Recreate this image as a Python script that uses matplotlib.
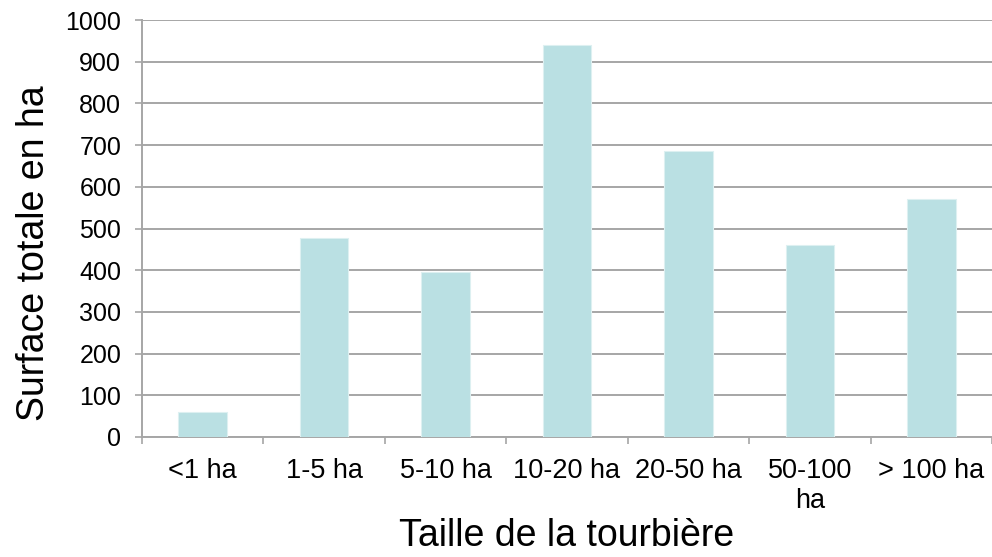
import matplotlib
matplotlib.use("Agg")
import matplotlib.pyplot as plt
import numpy as np

categories = ["<1 ha", "1-5 ha", "5-10 ha", "10-20 ha", "20-50 ha", "50-100\nha", "> 100 ha"]
values = [60, 477, 395, 940, 686, 460, 571]
yticks = list(range(0, 1001, 100))

plt.rcParams['font.family'] = ['Liberation Sans', 'DejaVu Sans']

fig = plt.figure(figsize=(9.92, 5.57), dpi=100)
ax = fig.add_axes([142/992, 1-437/557, 1-142/992, (437-20)/557])

x = np.arange(len(categories))
ax.bar(x, values, width=0.4, color="#BAE0E3", edgecolor="#DDF0F1", linewidth=0.8, zorder=3)

ax.set_xlim(-0.5, len(categories) - 0.5)
ax.set_ylim(0, 1000)
ax.set_yticks(yticks)
ax.set_yticklabels([str(t) for t in yticks], fontsize=18)
ax.yaxis.grid(True, color="#A6A6A6", linewidth=1.4, zorder=0)

ax.set_xticks(x)
ax.set_xticklabels(categories, fontsize=19.5, linespacing=1.2, va="top")
ax.set_xticks(np.arange(-0.5, len(categories)), minor=True)
ax.tick_params(axis="x", which="major", length=0, pad=15)
ax.tick_params(axis="x", which="minor", length=5, color="#A6A6A6", width=1.2)
ax.tick_params(axis="y", length=5, color="#A6A6A6", width=1.2, pad=10)

for s in ["top", "right"]:
    ax.spines[s].set_visible(False)
for s in ["left", "bottom"]:
    ax.spines[s].set_color("#A6A6A6")
    ax.spines[s].set_linewidth(1.4)

ax.set_ylabel("Surface totale en ha", fontsize=27)
ax.yaxis.set_label_coords(-0.106, 0.44)
ax.set_xlabel("Taille de la tourbière", fontsize=27, labelpad=3)

fig.savefig("out.png", dpi=100)
